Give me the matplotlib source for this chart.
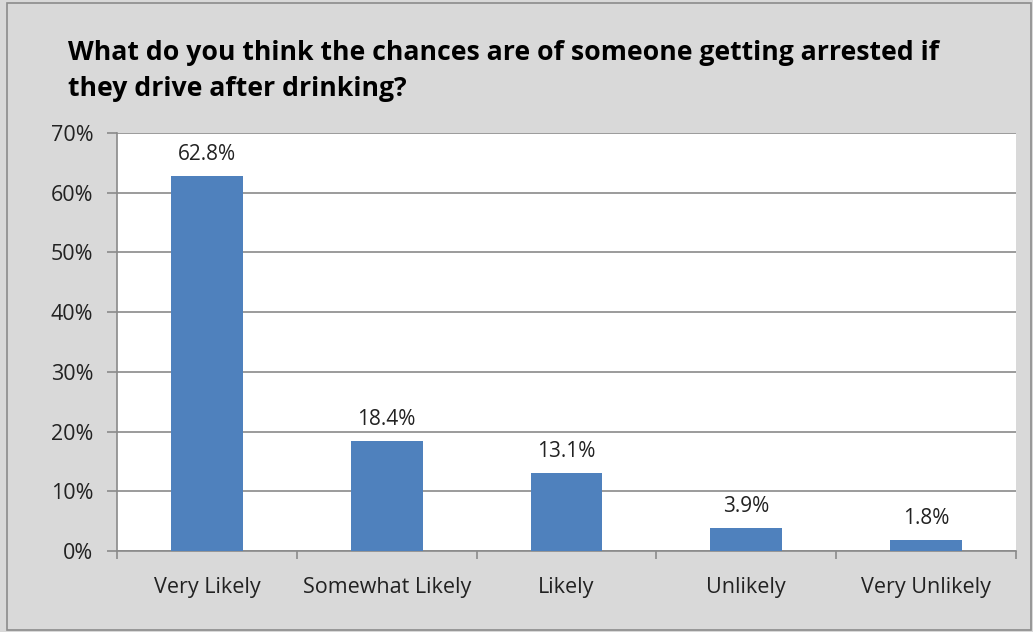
import numpy as np
import matplotlib.pyplot as plt
from matplotlib.patches import Rectangle
from matplotlib.ticker import FuncFormatter, FixedLocator

categories = ['Very Likely', 'Somewhat Likely', 'Likely', 'Unlikely', 'Very Unlikely']
values = [62.8, 18.4, 13.1, 3.9, 1.8]
title = 'What do you think the chances are of someone getting arrested if\nthey drive after drinking?'

plt.rcParams['font.family'] = ['Open Sans', 'DejaVu Sans']

fig = plt.figure(figsize=(10.33, 6.32), dpi=100, facecolor='#d9d9d9')
fig.patches.append(Rectangle((7 / 1033, 2 / 632), 1024 / 1033, 627 / 632, transform=fig.transFigure,
                             fill=False, edgecolor='#8c8c8c', linewidth=1.2))
ax = fig.add_axes([117 / 1033, 1 - 551 / 632, 899 / 1033, 418 / 632])
ax.set_facecolor('white')

x = np.arange(len(categories))
ax.bar(x, values, width=0.4, color='#4f81bd', zorder=3)
for xi, v in zip(x, values):
    ax.annotate('%.1f%%' % v, (xi, v), xytext=(0, 8), textcoords='offset points',
                ha='center', va='bottom', fontsize=15, color='#222222')

ax.set_xlim(-0.5, len(categories) - 0.5)
ax.set_ylim(0, 70)
ax.set_yticks(np.arange(0, 71, 10))
ax.yaxis.set_major_formatter(FuncFormatter(lambda v, p: '%d%%' % v))
ax.grid(axis='y', color='#8a8a8a', linewidth=1.2, zorder=0)

ax.set_xticks(x)
ax.set_xticklabels(categories, fontsize=15.5, color='#222222')
ax.tick_params(axis='x', length=0, pad=19)
ax.xaxis.set_minor_locator(FixedLocator(np.arange(-0.5, len(categories), 1)))
ax.tick_params(axis='x', which='minor', length=6, color='#8a8a8a', width=1.2)
ax.tick_params(axis='y', length=7, color='#8a8a8a', width=1.2, labelsize=15.5, labelcolor='#222222', pad=10)

for s in ['top', 'right']:
    ax.spines[s].set_visible(False)
for s in ['left', 'bottom']:
    ax.spines[s].set_color('#8a8a8a')
    ax.spines[s].set_linewidth(1.2)

fig.text(68 / 1033, 1 - 71 / 632, title, fontsize=19.2, fontweight='bold', color='black',
         ha='left', va='center', linespacing=1.5)

fig.savefig('out.png', dpi=100, facecolor=fig.get_facecolor())
